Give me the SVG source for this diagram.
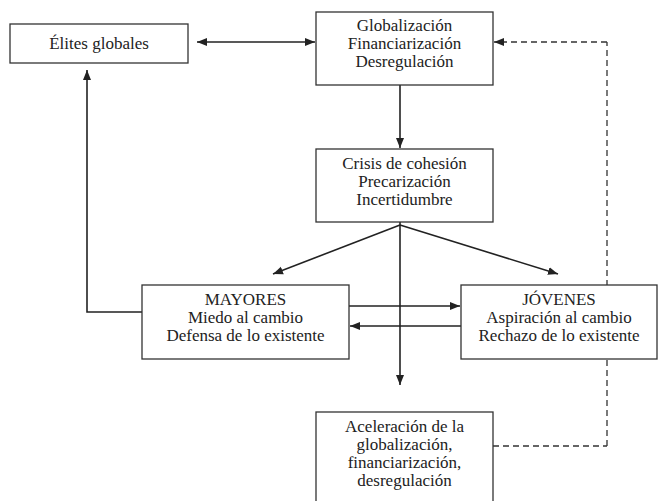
<svg xmlns="http://www.w3.org/2000/svg" width="658" height="501" viewBox="0 0 658 501">
<defs>
<style>
.box{fill:#fff;stroke:#333;stroke-width:1.3}
.t{font-family:"Liberation Serif","Times New Roman",serif;font-size:17px;fill:#222;text-anchor:middle}
.c{fill:none;stroke:#222;stroke-width:1.6}
.d{fill:none;stroke:#333;stroke-width:1.3;stroke-dasharray:6,4}
</style>
<marker id="ah" viewBox="0 0 10 10" refX="10" refY="5" markerWidth="10" markerHeight="10" markerUnits="userSpaceOnUse" orient="auto-start-reverse">
<path d="M0,1 L10,5 L0,9 Z" fill="#222"/>
</marker>
</defs>
<g id="connectors">
<line class="d" x1="493" y1="446" x2="607" y2="446"/>
<line class="d" x1="607" y1="446" x2="607" y2="42"/>
<line class="d" x1="607" y1="42" x2="494" y2="42" marker-end="url(#ah)"/>
<line class="c" x1="197" y1="42" x2="315" y2="42" marker-start="url(#ah)" marker-end="url(#ah)"/>
<line class="c" x1="400" y1="85" x2="400" y2="148" marker-end="url(#ah)"/>
<line class="c" x1="400" y1="222" x2="400" y2="385" marker-end="url(#ah)"/>
<line class="c" x1="400" y1="225" x2="273" y2="274" marker-end="url(#ah)"/>
<line class="c" x1="400" y1="225" x2="558" y2="274" marker-end="url(#ah)"/>
<polyline class="c" points="142,312 87,312 87,70" marker-end="url(#ah)"/>
<line class="c" x1="349" y1="306" x2="460" y2="306" marker-end="url(#ah)"/>
<line class="c" x1="461" y1="326" x2="350" y2="326" marker-end="url(#ah)"/>
</g>
<g id="elites">
<rect class="box" x="10" y="24" width="178" height="39"/>
<text class="t" x="99" y="49">Élites globales</text>
</g>
<g id="globalizacion">
<rect class="box" x="316" y="12" width="177" height="73"/>
<text class="t" x="404.5" y="31">Globalización</text>
<text class="t" x="404.5" y="49">Financiarización</text>
<text class="t" x="404.5" y="67">Desregulación</text>
</g>
<g id="crisis">
<rect class="box" x="316" y="149" width="177" height="73"/>
<text class="t" x="404.5" y="169">Crisis de cohesión</text>
<text class="t" x="404.5" y="187">Precarización</text>
<text class="t" x="404.5" y="205">Incertidumbre</text>
</g>
<g id="mayores">
<rect class="box" x="142" y="285" width="207" height="74"/>
<text class="t" x="245.5" y="305">MAYORES</text>
<text class="t" x="245.5" y="323">Miedo al cambio</text>
<text class="t" x="245.5" y="341">Defensa de lo existente</text>
</g>
<g id="jovenes">
<rect class="box" x="461" y="285" width="196" height="74"/>
<text class="t" x="559" y="305">JÓVENES</text>
<text class="t" x="559" y="323">Aspiración al cambio</text>
<text class="t" x="559" y="341">Rechazo de lo existente</text>
</g>
<g id="aceleracion">
<rect class="box" x="316" y="412" width="177" height="100"/>
<text class="t" x="404.5" y="432">Aceleración de la</text>
<text class="t" x="404.5" y="450">globalización,</text>
<text class="t" x="404.5" y="468">financiarización,</text>
<text class="t" x="404.5" y="486">desregulación</text>
</g>
</svg>
